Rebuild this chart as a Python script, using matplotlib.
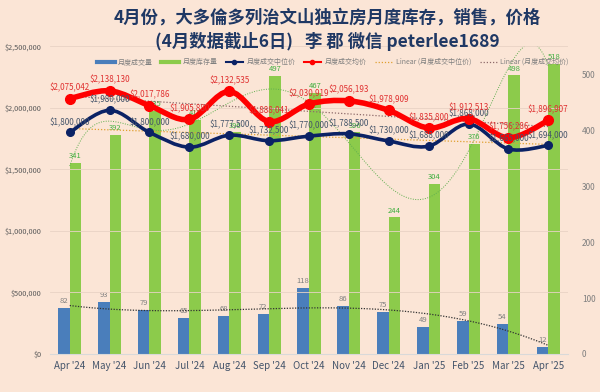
import numpy as np
import matplotlib
matplotlib.use('Agg')
import matplotlib.pyplot as plt
from matplotlib.path import Path
from matplotlib.patches import PathPatch
from matplotlib.lines import Line2D
from matplotlib.ticker import FuncFormatter

plt.rcParams['font.family'] = ['Noto Sans CJK SC', 'DejaVu Sans']

months = ["Apr '24", "May '24", "Jun '24", "Jul '24", "Aug '24", "Sep '24", "Oct '24",
          "Nov '24", "Dec '24", "Jan '25", "Feb '25", "Mar '25", "Apr '25"]
sales = [82, 93, 79, 65, 68, 72, 118, 86, 75, 49, 59, 54, 12]
inventory = [341, 392, 435, 418, 396, 497, 467, 396, 244, 304, 376, 498, 518]
median_price = [1800000, 1980000, 1800000, 1680000, 1777500, 1732500, 1770000,
                1788500, 1730000, 1688000, 1868000, 1665000, 1694000]
mean_price = [2075042, 2138130, 2017786, 1905880, 2132535, 1888041, 2030919,
              2056193, 1978909, 1835800, 1912513, 1756286, 1896907]

bg = '#FBE5D6'
blue = '#4A7EBB'
green = '#8CCB4B'
navy = '#0B2265'
red = '#FF0000'


def smooth_path(xs, ys):
    # excel style smooth line (bezier through every point)
    pts = np.column_stack([xs, ys]).astype(float)
    verts = [pts[0]]
    codes = [Path.MOVETO]
    n = len(pts)
    for i in range(n - 1):
        p0 = pts[i - 1] if i > 0 else pts[i]
        p1 = pts[i]
        p2 = pts[i + 1]
        p3 = pts[i + 2] if i + 2 < n else pts[i + 1]
        c1 = p1 + (p2 - p0) / 6
        c2 = p2 - (p3 - p1) / 6
        verts += [c1, c2, p2]
        codes += [Path.CURVE4] * 3
    return Path(verts, codes)


x = np.arange(len(months))
xf = np.linspace(0, len(months) - 1, 200)

fig = plt.figure(figsize=(6, 3.92), dpi=100, facecolor=bg)
ax = fig.add_axes([0.083, 0.097, 0.864, 0.785])
ax.set_facecolor(bg)
ax2 = ax.twinx()

# bars on the count axis
w = 0.29
ax.bar(x - w / 2, sales, w, color=blue, zorder=2)
ax.bar(x + w / 2, inventory, w, color=green, zorder=2)
for i in range(len(x)):
    ax.text(x[i] - w / 2, sales[i] + 5, str(sales[i]), ha='center', va='bottom',
            fontsize=5.5, color='#7F7F7F')
    ax.text(x[i] + w / 2, inventory[i] + 5, str(inventory[i]), ha='center', va='bottom',
            fontsize=5.5, color='#3FAF3F')

# trend lines on the counts
sales_fit = np.polyval(np.polyfit(x, sales, 3), xf)
ax.plot(xf, sales_fit, ls=(0, (1, 1.2)), color='#333333', lw=0.9, zorder=3)
inv_fit = np.polyval(np.polyfit(x, inventory, 6), xf)
ax.plot(xf, inv_fit, ls=(0, (1, 1.5)), color='#5FAF4F', lw=0.7, zorder=3)

ax.set_ylim(0, 550)
ax.set_yticks(range(0, 501, 100))
ax.set_xlim(-0.5, len(months) - 0.5)
ax.set_xticks(x)
ax.set_xticklabels(months, fontsize=7, color='#44546A')
ax.yaxis.tick_right()
ax.tick_params(axis='y', labelsize=6, colors='#7F7F7F', length=0, pad=10)
ax.tick_params(axis='x', length=0, pad=5)
for s in ax.spines.values():
    s.set_visible(False)
ax.spines['bottom'].set_visible(True)
ax.spines['bottom'].set_color('#D9D9D9')

# price lines
ax2.set_ylim(0, 2500000)
ax2.set_yticks(range(0, 2500001, 500000))
ax2.yaxis.tick_left()
ax2.yaxis.set_major_formatter(FuncFormatter(lambda v, p: '${:,.0f}'.format(v)))
ax2.tick_params(axis='y', labelsize=5.3, colors='#595959', length=0, pad=6)
ax2.grid(axis='y', color='#E8D3C5', lw=0.6, zorder=0)
for s in ax2.spines.values():
    s.set_visible(False)

med_fit = np.polyval(np.polyfit(x, median_price, 1), xf)
mean_fit = np.polyval(np.polyfit(x, mean_price, 1), xf)
ax2.plot(xf, med_fit, ls=(0, (1, 1.5)), color='#E0A030', lw=0.9, zorder=3)
ax2.plot(xf, mean_fit, ls=(0, (1, 1.5)), color='#8E6A6A', lw=0.9, zorder=3)

ax2.add_patch(PathPatch(smooth_path(x, median_price), fill=False, ec=navy, lw=2.6,
                        zorder=4, capstyle='round'))
ax2.plot(x, median_price, 'o', color=navy, ms=5.5, zorder=5)
ax2.add_patch(PathPatch(smooth_path(x, mean_price), fill=False, ec=red, lw=4,
                        zorder=6, capstyle='round'))
ax2.plot(x, mean_price, 'o', color=red, ms=7, zorder=7)

for i in range(len(x)):
    ax2.text(x[i], median_price[i] + 45000, '${:,}'.format(median_price[i]), ha='center',
             va='bottom', fontsize=5.8, color='#44546A', zorder=8)
    ax2.text(x[i], mean_price[i] + 50000, '${:,}'.format(mean_price[i]), ha='center',
             va='bottom', fontsize=5.8, color='#E03030', zorder=8)

# title
fig.text(0.545, 0.955, '4月份，大多倫多列治文山独立房月度库存，销售，价格',
         ha='center', va='center', fontsize=12.5, fontweight='bold', color='#1F3864')
fig.text(0.545, 0.893, '(4月数据截止6日)   李 郡 微信 peterlee1689',
         ha='center', va='center', fontsize=12.5, fontweight='bold', color='#1F3864')

handles = [
    Line2D([], [], color=blue, lw=3),
    Line2D([], [], color=green, lw=3),
    Line2D([], [], color=navy, lw=1.5, marker='o', ms=3),
    Line2D([], [], color=red, lw=1.5, marker='o', ms=3),
    Line2D([], [], color='#E0A030', lw=0.9, ls=(0, (1, 1.5))),
    Line2D([], [], color='#8E6A6A', lw=0.9, ls=(0, (1, 1.5))),
]
labels = ['月度成交量', '月度库存量', '月度成交中位价', '月度成交均价',
          'Linear (月度成交中位价)', 'Linear (月度成交均价)']
leg = fig.legend(handles, labels, loc='center', bbox_to_anchor=(0.555, 0.842), ncol=6,
                 frameon=False, fontsize=5, handlelength=2.5, columnspacing=1.2,
                 handletextpad=0.5)
for t in leg.get_texts():
    t.set_color('#7F7F7F')

fig.savefig('out.png', dpi=100, facecolor=bg)
